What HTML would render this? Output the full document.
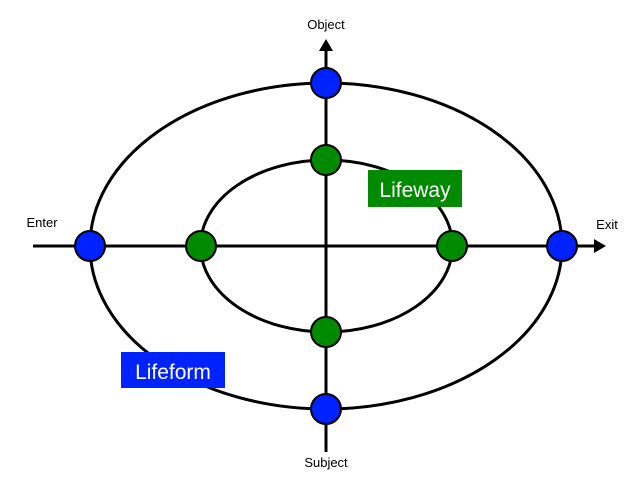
<!DOCTYPE html>
<html><head><style>body{margin:0;background:#fff}svg{display:block}</style></head><body>
<svg width="640" height="479" viewBox="0 0 640 479" xmlns="http://www.w3.org/2000/svg" font-family="Liberation Sans, sans-serif">
<g fill="none" stroke="#000" stroke-width="3">
<ellipse cx="326" cy="246" rx="236" ry="163"/>
<ellipse cx="326.5" cy="246" rx="126" ry="86"/>
<line x1="33" y1="246" x2="598" y2="246"/>
<line x1="326" y1="452" x2="326" y2="48"/>
</g>
<polygon points="606,246 594,239 594,253" fill="#000"/>
<polygon points="326,39 319,51 333,51" fill="#000"/>
<g stroke="#000" stroke-width="2">
<g fill="#0022ff">
<circle cx="326" cy="83" r="15"/><circle cx="326" cy="409" r="15"/>
<circle cx="90" cy="246" r="15"/><circle cx="562" cy="246" r="15"/>
</g>
<g fill="#008a00">
<circle cx="326" cy="160" r="15"/><circle cx="326" cy="332" r="15"/>
<circle cx="201" cy="246" r="15"/><circle cx="452" cy="246" r="15"/>
</g>
</g>
<rect x="368" y="170" width="94" height="37" fill="#008a00"/>
<text x="415" y="197" font-size="21" fill="#fff" text-anchor="middle">Lifeway</text>
<rect x="121" y="352" width="104" height="36" fill="#0022ff"/>
<text x="173" y="379" font-size="21" fill="#fff" text-anchor="middle">Lifeform</text>
<g font-size="13" fill="#000" text-anchor="middle">
<text x="326" y="29">Object</text>
<text x="326" y="467">Subject</text>
<text x="42" y="227">Enter</text>
<text x="607" y="229">Exit</text>
</g>
</svg>
</body></html>
